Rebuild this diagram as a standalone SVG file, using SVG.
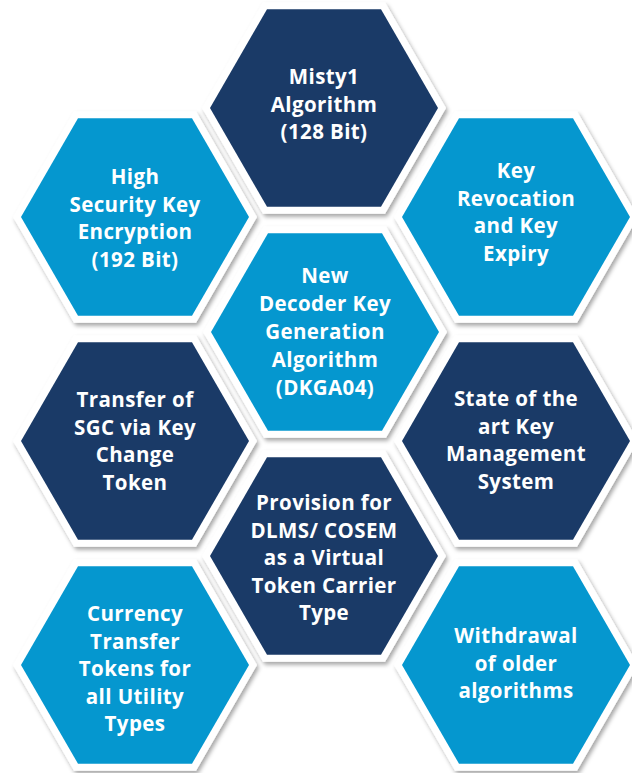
<svg xmlns="http://www.w3.org/2000/svg" xmlns:xlink="http://www.w3.org/1999/xlink" width="632" height="773" viewBox="0 0 632 773">
<style>
.frame{fill:#ffffff;filter:url(#sh)}
.dark{fill:#1a3a67}
.light{fill:#0597cf}
text{font-family:"Open Sans","Liberation Sans",sans-serif;font-weight:bold;font-size:20.5px;letter-spacing:0.4px;fill:#ffffff;text-anchor:middle}
</style>
<defs>
<filter id="sh" x="-20%" y="-20%" width="140%" height="140%">
<feDropShadow dx="2" dy="3" stdDeviation="2" flood-color="#000" flood-opacity="0.35"/>
</filter>
<polygon id="outer" points="-122,0 -61,-105.7 61,-105.7 122,0 61,105.7 -61,105.7"/>
<polygon id="inner" points="-114,0 -57,-98.7 57,-98.7 114,0 57,98.7 -57,98.7"/>
</defs>
<rect width="632" height="773" fill="#ffffff"/>
<g id="connectors"/>
<g id="misty" transform="translate(324,108)">
<use xlink:href="#outer" class="frame"/><use xlink:href="#inner" class="dark"/>
<text><tspan x="0" y="-24">Misty1</tspan><tspan x="0" y="3.5">Algorithm</tspan><tspan x="0" y="31">(128 Bit)</tspan></text>
</g>
<g id="highsec" transform="translate(135,217)">
<use xlink:href="#outer" class="frame"/><use xlink:href="#inner" class="light"/>
<text><tspan x="0" y="-33">High</tspan><tspan x="0" y="-5.5">Security Key</tspan><tspan x="0" y="22">Encryption</tspan><tspan x="0" y="49.5">(192 Bit)</tspan></text>
</g>
<g id="keyrev" transform="translate(516,217)">
<use xlink:href="#outer" class="frame"/><use xlink:href="#inner" class="light"/>
<text><tspan x="0" y="-39">Key</tspan><tspan x="0" y="-11.5">Revocation</tspan><tspan x="0" y="16">and Key</tspan><tspan x="0" y="43.5">Expiry</tspan></text>
</g>
<g id="dkga" transform="translate(325,332)">
<use xlink:href="#outer" class="frame"/><use xlink:href="#inner" class="light"/>
<text><tspan x="0" y="-49">New</tspan><tspan x="0" y="-21">Decoder Key</tspan><tspan x="0" y="7">Generation</tspan><tspan x="0" y="35">Algorithm</tspan><tspan x="0" y="63">(DKGA04)</tspan></text>
</g>
<g id="sgc" transform="translate(135,441)">
<use xlink:href="#outer" class="frame"/><use xlink:href="#inner" class="dark"/>
<text><tspan x="0" y="-34">Transfer of</tspan><tspan x="0" y="-6.5">SGC via Key</tspan><tspan x="0" y="21">Change</tspan><tspan x="0" y="48.5">Token</tspan></text>
</g>
<g id="kms" transform="translate(516,441)">
<use xlink:href="#outer" class="frame"/><use xlink:href="#inner" class="dark"/>
<text><tspan x="0" y="-35">State of the</tspan><tspan x="0" y="-7.5">art Key</tspan><tspan x="0" y="20">Management</tspan><tspan x="0" y="47.5">System</tspan></text>
</g>
<g id="dlms" transform="translate(324,556)">
<use xlink:href="#outer" class="frame"/><use xlink:href="#inner" class="dark"/>
<text><tspan x="0" y="-46">Provision for</tspan><tspan x="0" y="-18.5">DLMS/ COSEM</tspan><tspan x="0" y="9">as a Virtual</tspan><tspan x="0" y="36.5">Token Carrier</tspan><tspan x="0" y="64">Type</tspan></text>
</g>
<g id="currency" transform="translate(135,665)">
<use xlink:href="#outer" class="frame"/><use xlink:href="#inner" class="light"/>
<text><tspan x="0" y="-44">Currency</tspan><tspan x="0" y="-16.5">Transfer</tspan><tspan x="0" y="11">Tokens for</tspan><tspan x="0" y="38.5">all Utility</tspan><tspan x="0" y="66">Types</tspan></text>
</g>
<g id="withdrawal" transform="translate(516,665)">
<use xlink:href="#outer" class="frame"/><use xlink:href="#inner" class="light"/>
<text><tspan x="0" y="-22">Withdrawal</tspan><tspan x="0" y="5.5">of older</tspan><tspan x="0" y="33">algorithms</tspan></text>
</g>
</svg>
